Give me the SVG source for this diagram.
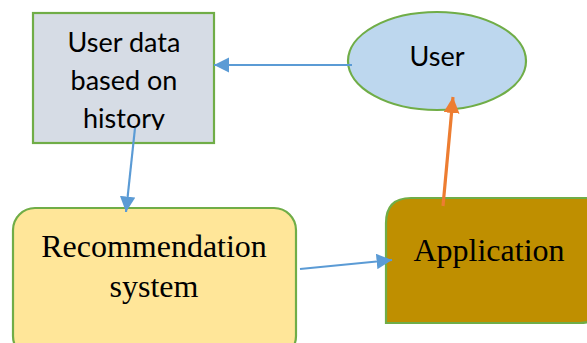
<svg xmlns="http://www.w3.org/2000/svg" width="587" height="343" viewBox="0 0 587 343">
<style>
.node{stroke:#70AD47;stroke-width:2.2}
.cal{font-family:Lato,"Open Sans","Liberation Sans",sans-serif;font-size:27px;fill:#000;text-anchor:middle}
.tnr{font-family:"Liberation Serif","Times New Roman",serif;font-size:32px;fill:#000;text-anchor:middle}
.blue{stroke:#5B9BD5;stroke-width:2.2;fill:none}
.orange{stroke:#ED7D31;stroke-width:3.2;fill:none}
</style>
<defs>
<marker id="ab" viewBox="0 0 10 10" refX="10" refY="5" markerWidth="7" markerHeight="7" markerUnits="strokeWidth" orient="auto">
<path d="M0,0 L10,5 L0,10 z" fill="#5B9BD5"/>
</marker>
<marker id="ao" viewBox="0 0 10 10" refX="10" refY="5" markerWidth="5" markerHeight="5" markerUnits="strokeWidth" orient="auto">
<path d="M0,0 L10,5 L0,10 z" fill="#ED7D31"/>
</marker>
<clipPath id="c1"><rect x="33" y="13" width="181" height="117"/></clipPath>
</defs>
<g id="history">
<rect class="node" x="33" y="13" width="181" height="130" fill="#D6DCE5"/>
<g clip-path="url(#c1)">
<text class="cal" x="124" y="52">User data</text>
<text class="cal" x="124" y="90">based on</text>
<text class="cal" x="124" y="128">history</text>
</g>
</g>
<g id="user">
<ellipse class="node" cx="437" cy="61" rx="89" ry="49" fill="#BDD7EE"/>
<text class="cal" x="437" y="66">User</text>
</g>
<g id="recommendation">
<rect class="node" x="13" y="208" width="283" height="150" rx="22" ry="22" fill="#FFE699"/>
<text class="tnr" x="154" y="257">Recommendation</text>
<text class="tnr" x="154" y="297">system</text>
</g>
<g id="application">
<path class="node" d="M411,198 L600,198 L600,303 Q600,323 580,323 L386,323 L386,223 Q386,198 411,198 Z" fill="#BF8F00"/>
<text class="tnr" x="489" y="261">Application</text>
</g>
<g id="connectors">
<line class="blue" x1="352" y1="65" x2="214" y2="65" marker-end="url(#ab)"/>
<line class="blue" x1="135" y1="128" x2="126" y2="212" marker-end="url(#ab)"/>
<line class="blue" x1="300" y1="269" x2="392" y2="260" marker-end="url(#ab)"/>
<line class="orange" x1="443" y1="206" x2="453" y2="97" marker-end="url(#ao)"/>
</g>
</svg>
